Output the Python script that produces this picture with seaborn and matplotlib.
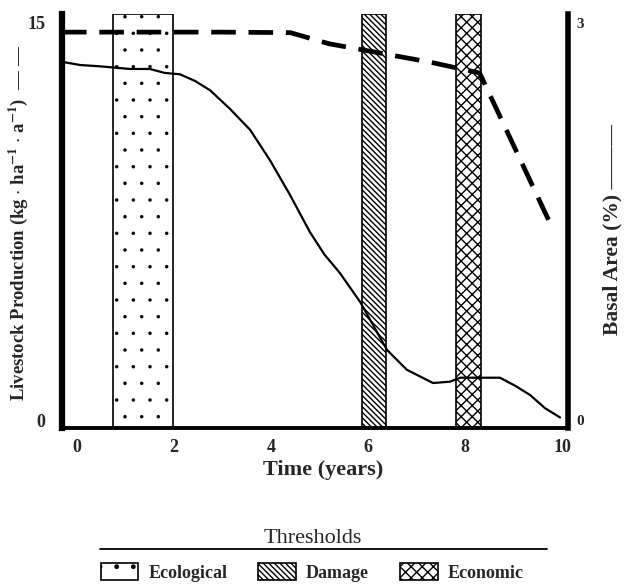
import numpy as np
import pandas as pd
import seaborn as sns
import matplotlib.pyplot as plt
from matplotlib.patches import Patch
from matplotlib.lines import Line2D

# Livestock production (left axis, dashed)
prod_time = [-0.31, 1.0, 2.0, 3.0, 4.4, 5.2, 6.25, 7.3, 8.3, 9.8]
prod_value = [14.64, 14.64, 14.64, 14.64, 14.62, 14.2, 13.85, 13.5, 13.1, 7.25]

# Basal area (right axis, solid)
basal_time = [-0.25, 0.06, 0.47, 1.09, 1.5, 1.81, 2.12, 2.43, 2.74, 3.15, 3.57,
              3.98, 4.39, 4.8, 5.1, 5.42, 5.84, 6.39, 6.8, 7.34, 7.69, 7.9,
              8.31, 8.72, 9.03, 9.34, 9.65, 9.96]
basal_value = [2.70, 2.68, 2.67, 2.65, 2.65, 2.62, 2.61, 2.56, 2.49, 2.35, 2.19,
               1.96, 1.70, 1.42, 1.25, 1.11, 0.89, 0.53, 0.38, 0.28, 0.29, 0.32,
               0.32, 0.32, 0.26, 0.19, 0.09, 0.02]

# Threshold bands
thr_names = ["Ecological", "Damage", "Economic"]
thr_start = [0.74, 5.88, 7.81]
thr_end = [1.98, 6.37, 8.33]
thr_hatch = [".", "\\\\\\\\\\\\", "xxx"]
thr_hatch_lw = [0.1, 1.0, 1.0]

xticks = [0, 2, 4, 6, 8, 10]

sns.set_theme(style="white")
plt.rcParams['font.family'] = ['Liberation Serif', 'DejaVu Serif']
plt.rcParams['mathtext.fontset'] = 'stix'


def hatch_patch(h, hlw, **kw):
    with plt.rc_context({"hatch.linewidth": hlw}):
        p = Patch(facecolor="white", edgecolor="black", hatch=h, lw=1.2, **kw)
    if hasattr(p, "set_hatch_linewidth"):
        p.set_hatch_linewidth(hlw)
    return p


fig = plt.figure(figsize=(6.24, 5.88), dpi=100)
ax = fig.add_axes([0.0994, 0.272, 0.8106, 0.704])
ax2 = ax.twinx()

for s, e, h, hlw in zip(thr_start, thr_end, thr_hatch, thr_hatch_lw):
    with plt.rc_context({"hatch.linewidth": hlw}):
        span = ax.axvspan(s, e, facecolor="white", edgecolor="black", hatch=h, lw=1.2, zorder=1)
    if hasattr(span, "set_hatch_linewidth"):
        span.set_hatch_linewidth(hlw)

prod = pd.DataFrame({"t": prod_time, "v": prod_value})
basal = pd.DataFrame({"t": basal_time, "v": basal_value})
sns.lineplot(data=prod, x="t", y="v", ax=ax, color="black", lw=3.4,
             linestyle=(0, (5.2, 2.7)), zorder=3)
sns.lineplot(data=basal, x="t", y="v", ax=ax2, color="black", lw=1.6, zorder=3)

ax.set_xlim(-0.31, 10.12)
ax.set_ylim(-0.3, 15.32)
ax2.set_ylim(-0.06, 3.064)

ax.set_xticks(xticks)
ax.set_yticks([0, 15])
ax2.set_yticks([0, 3])
ax.tick_params(length=0, labelsize=13)
ax.tick_params(axis="y", pad=12)
ax.tick_params(axis="x", pad=8)
ax2.tick_params(length=0, labelsize=11, pad=6)
for lab in ax.get_xticklabels() + ax.get_yticklabels() + ax2.get_yticklabels():
    lab.set_fontweight("bold")

for a in (ax, ax2):
    for side in ["top", "bottom", "left", "right"]:
        a.spines[side].set_visible(False)
ax.spines["left"].set_visible(True)
ax.spines["left"].set_linewidth(4.5)
ax.spines["bottom"].set_visible(True)
ax.spines["bottom"].set_linewidth(2.8)
ax2.spines["right"].set_visible(True)
ax2.spines["right"].set_linewidth(4)
for sp in ax.spines.values():
    sp.set_color("black")
ax2.spines["right"].set_color("black")

ax.set_xlabel("")
ax.set_ylabel("")
ax2.set_ylabel("")
fig.text(0.518, 0.201, "Time (years)", ha="center", va="center", fontsize=16, fontweight="bold")
fig.text(0.029, 0.62,
         r"Livestock Production (kg $\cdot$ ha$^{\mathbf{-1}}$ $\cdot$ a$^{\mathbf{-1}}$)  — —",
         rotation=90, ha="center", va="center", fontsize=13.5, fontweight="bold")
fig.text(0.981, 0.61, "Basal Area (%) ———", rotation=90, ha="center", va="center",
         fontsize=15.5, fontweight="bold")

# Legend
fig.text(0.502, 0.085, "Thresholds", ha="center", va="center", fontsize=16)
fig.add_artist(Line2D([0.16, 0.877], [0.066, 0.066], color="black", lw=1.3))
handles = [hatch_patch(h, hlw) for h, hlw in zip(thr_hatch, thr_hatch_lw)]
fig.legend(handles, thr_names, loc="center", bbox_to_anchor=(0.5, 0.027), ncol=3,
           frameon=False, prop={"size": 13, "weight": "bold"}, handlelength=2.1,
           handleheight=1.1, handletextpad=0.55, columnspacing=1.7, borderpad=0)

fig.savefig("out.png", dpi=100)
